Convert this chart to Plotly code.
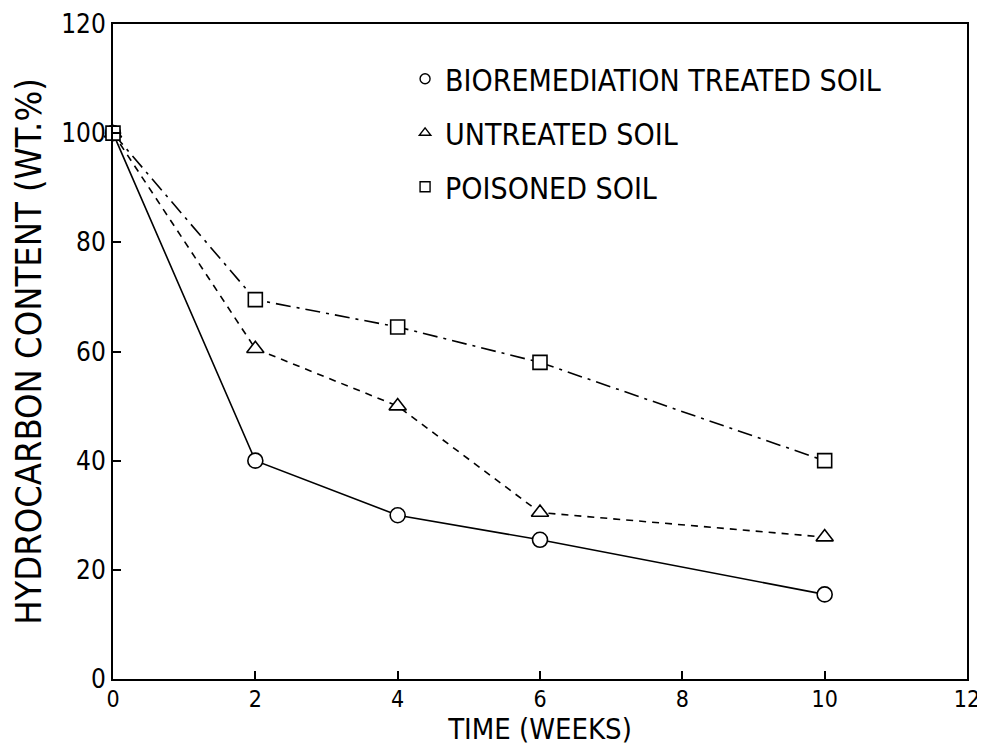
import plotly.graph_objects as go

weeks = [0, 2, 4, 6, 10]
treated = [100, 40, 30, 25.5, 15.5]
untreated = [100, 60.5, 50, 30.5, 26]
poisoned = [100, 69.5, 64.5, 58, 40]

series_names = ["BIOREMEDIATION TREATED SOIL", "UNTREATED SOIL", "POISONED SOIL"]
x_ticks = [0, 2, 4, 6, 8, 10, 12]
y_ticks = [0, 20, 40, 60, 80, 100, 120]

FONT = "DejaVu Sans Condensed, Liberation Sans Narrow, sans-serif"

fig = go.Figure()

styles = [
    (treated, "circle", "solid", 15),
    (untreated, "triangle-up", "7px,6px", 15),
    (poisoned, "square", "15px,6px,3px,6px", 14),
]

for (vals, sym, dash, size), name in zip(styles, series_names):
    fig.add_trace(go.Scatter(
        x=weeks, y=vals, mode="lines+markers", showlegend=False,
        line=dict(color="black", width=1.6, dash=dash),
        marker=dict(symbol=sym, size=size, color="white",
                    line=dict(color="black", width=1.6)),
        cliponaxis=False,
    ))

for i, ((vals, sym, dash, size), name) in enumerate(zip(styles, series_names)):
    fig.add_trace(go.Scatter(
        x=[None], y=[None], mode="markers", name=name, legendgroup=f"g{i}",
        marker=dict(symbol=sym, size=10, color="white",
                    line=dict(color="black", width=1.4)),
    ))

fig.update_layout(
    width=977, height=739,
    margin=dict(l=105, r=18, t=16, b=68),
    paper_bgcolor="white", plot_bgcolor="white",
    font=dict(family=FONT, color="black"),
    legend=dict(
        x=0.342, y=0.956, xanchor="left", yanchor="top",
        font=dict(family=FONT, size=30, color="black"),
        bgcolor="rgba(0,0,0,0)", tracegroupgap=12, itemwidth=30,
    ),
    xaxis=dict(
        range=[0, 12], tickvals=x_ticks, ticktext=[str(v) for v in x_ticks],
        ticks="inside", ticklen=8, tickwidth=1.5, tickcolor="black",
        showline=True, linecolor="black", linewidth=2, mirror=True,
        showgrid=False, zeroline=False, automargin=False,
        tickfont=dict(family=FONT, size=23), ticklabelstandoff=-2,
        title=dict(text="TIME (WEEKS)", font=dict(family=FONT, size=29), standoff=4),
    ),
    yaxis=dict(
        range=[0, 120], tickvals=y_ticks, ticktext=[str(v) for v in y_ticks],
        ticks="inside", ticklen=8, tickwidth=1.5, tickcolor="black",
        showline=True, linecolor="black", linewidth=2, mirror=True,
        showgrid=False, zeroline=False, automargin=False,
        tickfont=dict(family=FONT, size=26),
        title=dict(text="HYDROCARBON CONTENT (WT.%)", font=dict(family=FONT, size=36), standoff=22),
    ),
)

fig.write_html("out.html")
